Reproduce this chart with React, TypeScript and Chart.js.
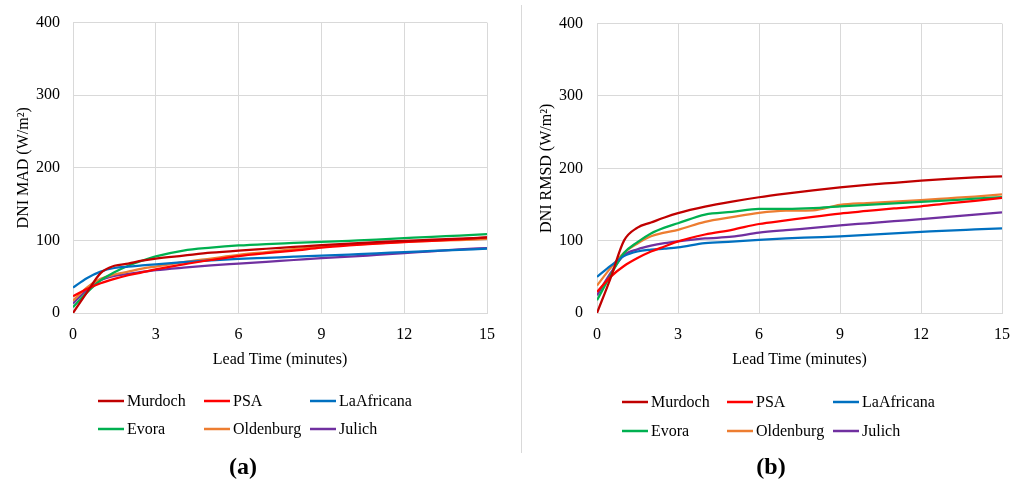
import React, { useEffect, useRef } from "react";
import { Chart, registerables } from "chart.js";

Chart.register(...registerables);

// ---------- data ----------
const LEAD_TIMES = [0, 0.5, 1, 1.5, 2, 2.5, 3, 4, 5, 6, 7, 8, 9, 10, 11, 12, 13, 14, 15];
const SITES = ["Murdoch", "PSA", "LaAfricana", "Evora", "Oldenburg", "Julich"];
const COLORS = ["#C00000", "#FF0000", "#0070C0", "#00B050", "#ED7D31", "#7030A0"];
const X_TICKS = [0, 3, 6, 9, 12, 15];
const Y_TICKS = [0, 100, 200, 300, 400];

// (a) DNI MAD
const MAD_MURDOCH = [0, 28, 55, 65, 68, 72, 75, 79, 83, 86, 88.5, 91, 93.5, 95.5, 97.5, 99.5, 101, 102.5, 104];
const MAD_PSA = [23, 33, 41, 47, 52, 56, 60, 67, 73, 78.5, 82.5, 86, 90, 93, 95.5, 97.5, 99.5, 101.5, 104];
const MAD_LAAFRICANA = [35, 48, 57, 62, 64, 65.5, 67, 70, 72.5, 74.5, 76, 77.5, 79, 80.5, 82, 84, 85.5, 87, 88.5];
const MAD_EVORA = [8, 28, 45, 56, 65, 72, 78, 86, 90, 93, 95, 96.5, 98, 99.5, 101, 103, 105, 106.5, 108.5];
const MAD_OLDENBURG = [17, 35, 47, 53, 57, 61, 64, 70, 75, 80, 84, 88, 91.5, 94, 96, 98, 99.5, 100.5, 102];
const MAD_JULICH = [13, 32, 45, 51, 54, 56.5, 59, 62.5, 65.5, 68, 70.5, 73, 75.5, 77.5, 80, 82.5, 85, 87.5, 89.5];

// (b) DNI RMSD
const RMSD_MURDOCH = [0, 48, 100, 118, 125, 132, 138, 147, 154, 160, 165, 169.5, 173.5, 177, 180, 183, 185.5, 187.5, 189];
const RMSD_PSA = [29, 50, 65, 76, 85, 92, 99, 108.5, 115, 123, 128, 133, 137.5, 141, 144.5, 147.5, 151.5, 155, 159];
const RMSD_LAAFRICANA = [50, 65, 78.6, 85, 87.5, 89, 90.7, 96.5, 98.7, 101, 103, 104.5, 106, 108, 110, 112, 114, 115.5, 117];
const RMSD_EVORA = [17.6, 52, 83, 98, 110, 118, 124, 136, 139.7, 144, 144, 145, 147.5, 149.5, 151.5, 153.5, 155.5, 158, 160];
const RMSD_OLDENBURG = [38, 62, 83, 96, 106, 111, 115, 126, 132.5, 138.5, 141.5, 142, 149.5, 152, 154, 156, 158.5, 161, 164];
const RMSD_JULICH = [24.4, 55, 80, 88, 93, 96.5, 99, 103, 105.4, 111, 114.5, 117.5, 121, 124, 127, 129.7, 133, 136, 139];

const MAD_SERIES = [MAD_MURDOCH, MAD_PSA, MAD_LAAFRICANA, MAD_EVORA, MAD_OLDENBURG, MAD_JULICH];
const RMSD_SERIES = [RMSD_MURDOCH, RMSD_PSA, RMSD_LAAFRICANA, RMSD_EVORA, RMSD_OLDENBURG, RMSD_JULICH];

const FONT_FAMILY = "'Liberation Serif', 'Times New Roman', serif";
const GRID = "#d9d9d9";

// ---------- plugin: 3-column legend + panel label ----------
const gridLegendPlugin = {
  id: "gridLegend",
  afterDraw(chart: any, _args: any, opts: any) {
    const ctx = chart.ctx;
    ctx.save();
    ctx.font = `16px ${FONT_FAMILY}`;
    ctx.textBaseline = "middle";
    ctx.textAlign = "left";
    chart.data.datasets.forEach((ds: any, i: number) => {
      const col = i % 3;
      const row = Math.floor(i / 3);
      const x = opts.cols[col];
      const y = opts.rows[row];
      ctx.strokeStyle = ds.borderColor;
      ctx.lineWidth = 2.5;
      ctx.beginPath();
      ctx.moveTo(x, y);
      ctx.lineTo(x + 26, y);
      ctx.stroke();
      ctx.fillStyle = "#000";
      ctx.fillText(ds.label, x + 29, y + 1);
    });
    ctx.font = `bold 24px ${FONT_FAMILY}`;
    ctx.textAlign = "center";
    ctx.fillStyle = "#000";
    ctx.fillText(opts.panel, opts.panelX, opts.panelY);
    ctx.restore();
  },
};

type PanelProps = {
  left: number;
  width: number;
  series: number[][];
  yTitle: string;
  yAxisWidth: number;
  yTickPad: number;
  yTitlePad: number;
  topPad: number;
  rightPad: number;
  legendCols: number[];
  legendRows: number[];
  panel: string;
  panelX: number;
};

function Panel(p: PanelProps) {
  const ref = useRef<HTMLCanvasElement | null>(null);
  useEffect(() => {
    if (!ref.current) return;
    const datasets = SITES.map((name, i) => ({
      label: name,
      data: LEAD_TIMES.map((t, j) => ({ x: t, y: p.series[i][j] })),
      borderColor: COLORS[i],
      backgroundColor: COLORS[i],
      borderWidth: 2.25,
      pointRadius: 0,
      cubicInterpolationMode: "monotone" as const,
      fill: false,
    }));
    const chart = new Chart(ref.current, {
      type: "line",
      data: { datasets },
      plugins: [gridLegendPlugin as any],
      options: {
        animation: false,
        responsive: false,
        maintainAspectRatio: false,
        layout: { padding: { left: 0, top: p.topPad, right: p.rightPad, bottom: 0 } },
        plugins: {
          legend: { display: false },
          tooltip: { enabled: false },
          gridLegend: {
            cols: p.legendCols,
            rows: p.legendRows,
            panel: p.panel,
            panelX: p.panelX,
            panelY: 468,
          },
        } as any,
        scales: {
          x: {
            type: "linear",
            min: 0,
            max: 15,
            afterBuildTicks: (s: any) => {
              s.ticks = X_TICKS.map((v) => ({ value: v }));
            },
            afterFit: (s: any) => {
              s.height = 176;
            },
            grid: { color: GRID, drawTicks: false, lineWidth: 1 },
            border: { color: GRID },
            ticks: {
              padding: 12,
              color: "#000",
              font: { family: FONT_FAMILY, size: 16 },
              maxRotation: 0,
            },
            title: {
              display: true,
              text: "Lead Time (minutes)",
              color: "#000",
              font: { family: FONT_FAMILY, size: 16 },
              padding: { top: 0, bottom: 119.4 },
            },
          },
          y: {
            type: "linear",
            min: 0,
            max: 400,
            afterBuildTicks: (s: any) => {
              s.ticks = Y_TICKS.map((v) => ({ value: v }));
            },
            afterFit: (s: any) => {
              s.width = p.yAxisWidth;
            },
            grid: { color: GRID, drawTicks: false, lineWidth: 1 },
            border: { color: GRID },
            ticks: {
              padding: p.yTickPad,
              color: "#000",
              font: { family: FONT_FAMILY, size: 16 },
            },
            title: {
              display: true,
              text: p.yTitle,
              color: "#000",
              font: { family: FONT_FAMILY, size: 16 },
              padding: { top: p.yTitlePad, bottom: 0 },
            },
          },
        },
      },
    });
    return () => chart.destroy();
  }, []);
  return (
    <canvas
      ref={ref}
      width={p.width}
      height={489}
      style={{ position: "absolute", left: p.left, top: 0, width: p.width, height: 489 }}
    />
  );
}

export default function App() {
  return (
    <div style={{ position: "absolute", left: 0, top: 0, width: 1030, height: 489, background: "#fff", overflow: "hidden" }}>
      <Panel
        left={0}
        width={520}
        series={MAD_SERIES}
        yTitle="DNI MAD (W/m²)"
        yAxisWidth={73}
        yTickPad={13}
        yTitlePad={14.4}
        topPad={20}
        rightPad={33}
        legendCols={[98, 204, 310]}
        legendRows={[401, 429]}
        panel="(a)"
        panelX={243}
      />
      <div style={{ position: "absolute", left: 521, top: 5, width: 1, height: 448, background: "#d9d9d9" }} />
      <Panel
        left={522}
        width={508}
        series={RMSD_SERIES}
        yTitle="DNI RMSD (W/m²)"
        yAxisWidth={75}
        yTickPad={14}
        yTitlePad={15.4}
        topPad={18}
        rightPad={28}
        legendCols={[100, 205, 311]}
        legendRows={[402, 431]}
        panel="(b)"
        panelX={249}
      />
    </div>
  );
}
